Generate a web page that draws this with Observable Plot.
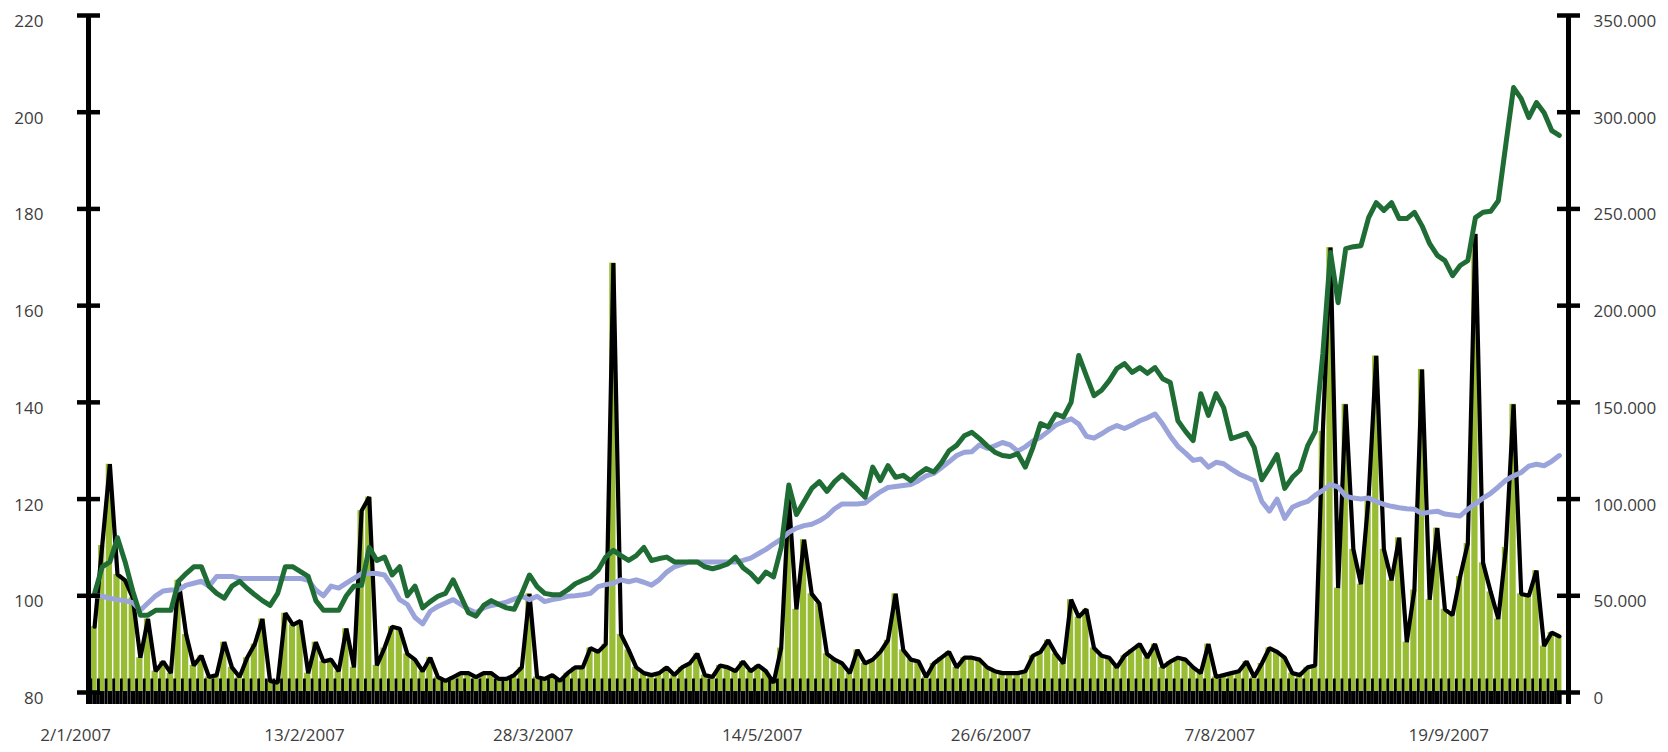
<!DOCTYPE html>
<html>
<head>
<meta charset="utf-8">
<script src="https://cdn.jsdelivr.net/npm/d3@7"></script>
<script src="https://cdn.jsdelivr.net/npm/@observablehq/plot@0.6"></script>
<style>
  html, body { margin: 0; padding: 0; background: #fff; }
  #chart svg { display: block; }
</style>
</head>
<body>
<div id="chart"></div>
<script>
// ---- data (trading-day index 0 = 2/1/2007) ----
const dateLabels = ["2/1/2007", "13/2/2007", "28/3/2007", "14/5/2007", "26/6/2007", "7/8/2007", "19/9/2007"];
const labelDays = [0, 30, 60, 90, 120, 150, 180];

const leftTicks = [80, 100, 120, 140, 160, 180, 200, 220];
const rightMax = 350000;

// volume, thousands (right axis)
const volumeK = [
  34, 76, 118, 61, 58, 49, 18, 38, 11, 16,
  10, 58, 30, 14, 19, 8, 9, 26, 13, 8,
  18, 25, 38, 6, 5, 41, 35, 37, 10, 26,
  16, 17, 11, 33, 13, 94, 101, 14, 23, 34,
  33, 20, 17, 11, 18, 8, 6, 8, 10, 10,
  8, 10, 10, 7, 7, 9, 13, 51, 8, 7,
  9, 6, 10, 13, 13, 23, 21, 25, 222, 30,
  22, 13, 10, 9, 10, 13, 9, 13, 15, 20,
  9, 8, 14, 13, 11, 16, 11, 14, 11, 5,
  23, 100, 43, 79, 51, 46, 20, 17, 15, 10,
  22, 15, 17, 21, 27, 51, 22, 17, 16, 8,
  15, 18, 21, 13, 18, 18, 17, 13, 11, 10,
  10, 10, 11, 19, 21, 27, 20, 15, 48, 39,
  43, 23, 19, 18, 13, 19, 22, 25, 18, 25,
  13, 16, 18, 17, 13, 10, 25, 8, 9, 10,
  11, 16, 8, 15, 23, 21, 18, 10, 9, 13,
  14, 135, 230, 54, 149, 74, 56, 101, 174, 74,
  58, 80, 26, 53, 167, 48, 85, 43, 40, 60,
  77, 237, 67, 52, 38, 75, 149, 51, 50, 63,
  24, 31, 29
];

// dark green index (left axis)
const seriesA = [
  100.5, 106, 107, 112, 107, 101, 96, 96, 97, 97,
  97, 103, 104.6, 106, 106, 102, 100.5, 99.5, 102, 103,
  101.5, 100.2, 99, 98, 100.5, 106, 106, 105, 104, 99,
  97, 97, 97, 100, 102, 102.2, 110, 107.3, 108, 104.3,
  106, 100, 102, 97.5, 98.8, 99.9, 100.5, 103.3, 99.9, 96.5,
  95.8, 98, 99, 98.2, 97.5, 97.2, 100.5, 104.3, 101.9, 100.5,
  100.2, 100.2, 101.2, 102.5, 103.2, 103.9, 105.3, 108, 109.4, 108.3,
  107.3, 108.3, 110, 107.3, 107.7, 108, 107, 107, 107, 107,
  106, 105.6, 106, 106.6, 108, 105.8, 104.6, 102.9, 104.9, 103.9,
  110, 122.9, 116.8, 119.5, 122.2, 123.6, 121.6, 123.6, 125, 123.5,
  122, 120.4, 126.6, 123.8, 126.9, 124.5, 124.9, 123.8, 125.2, 126.3,
  125.6, 127.5, 130, 131.1, 133.1, 133.8, 132.5, 131, 129.7, 129,
  128.8, 129.4, 126.6, 130.7, 135.6, 134.9, 137.6, 137, 140, 149.7,
  145.5, 141.4, 142.5, 144.5, 147, 148, 146.2, 147.2, 146, 147.2,
  144.9, 144.1, 136.2, 134, 132.1, 141.8, 137.3, 141.8, 138.9, 132.5,
  133, 133.6, 130.7, 124, 126.5, 129.2, 122.2, 124.5, 126, 131,
  134, 150, 171, 160.6, 171.8, 172.2, 172.4, 178.2, 181.3, 179.7,
  181.3, 178, 178, 179.3, 176.5, 172.8, 170.4, 169.3, 166.2, 168.3,
  169.3, 178.2, 179.3, 179.5, 181.7, 193.5, 205.1, 202.8, 198.9, 202,
  199.9, 196.2, 195.2
];

// light blue index (left axis)
const seriesB = [
  100, 99.9, 99.5, 99.2, 99, 98.6, 97, 98.5, 100, 101,
  101.2, 101.2, 102.2, 102.6, 103, 102, 104, 104, 104, 103.6,
  103.6, 103.6, 103.6, 103.6, 103.6, 103.6, 103.6, 103.6, 103.2, 101.2,
  100, 102, 101.6, 102.6, 103.6, 104.6, 104.6, 104.6, 104.3, 102,
  99.2, 98.2, 95.5, 94.2, 96.8, 97.8, 98.5, 99.2, 98.2, 97.2,
  96.5, 97.5, 98, 98.3, 98.7, 99.3, 99.9, 99.2, 99.9, 98.8,
  99.2, 99.5, 99.9, 100, 100.2, 100.5, 101.9, 102.3, 102.6, 103.3,
  102.9, 103.3, 102.8, 102.2, 103.3, 104.9, 106, 106.5, 107, 107,
  107, 107, 107, 107, 107, 107.3, 107.8, 108.7, 109.6, 110.7,
  111.7, 113.1, 114, 114.5, 114.8, 115.5, 116.5, 118, 119, 119,
  119, 119.2, 120.4, 121.5, 122.4, 122.6, 122.8, 123, 123.8, 124.8,
  125.3, 126.5, 127.7, 129, 129.7, 129.8, 131.2, 130.5, 131, 131.7,
  131.2, 129.9, 130.8, 132, 132.8, 134, 135.3, 136, 136.6, 135.5,
  133, 132.6, 133.5, 134.5, 135.2, 134.6, 135.3, 136.2, 136.8, 137.6,
  135.5, 133, 130.9, 129.5, 128, 128.3, 126.6, 127.6, 127.3, 126.2,
  125.2, 124.5, 123.8, 119.5, 117.5, 120, 116, 118.3, 119, 119.5,
  120.8, 121.8, 123, 122.5, 120.6, 120.2, 120, 120.2, 119.5, 118.9,
  118.5, 118.2, 118, 117.9, 117, 117.3, 117.5, 116.9, 116.7, 116.5,
  117.9, 119, 120.2, 121.2, 122.5, 123.9, 124.8, 125.5, 126.8, 127.2,
  126.9, 127.8, 129
];

// ---- build ----
const yMin = leftTicks[0], yMax = leftTicks[leftTicks.length - 1];
const volToLeft = v => yMin + v * (yMax - yMin) / rightMax;
const fmtDots = d3.format(",");
const rightLabel = d => fmtDots(Math.round((d - yMin) * rightMax / (yMax - yMin))).replace(/,/g, ".");

const data = volumeK.map((v, i) => ({i, vol: v * 1000, a: seriesA[i], b: seriesB[i]}));
const xDomain = [-0.8, data.length + 0.2];

const W = 1668, H = 752, mL = 88, mR = 100, mT = 15, mB = 60;
const frameW = W - mL - mR;
const frameH = H - mT - mB;
const textColor = "#3d3d3d";

const chart = Plot.plot({
  width: W, height: H,
  marginLeft: mL, marginRight: mR, marginTop: mT, marginBottom: mB,
  x: {domain: xDomain, axis: null},
  y: {domain: [yMin, yMax], axis: null},
  style: {fontFamily: "'Open Sans', sans-serif", fontSize: "17px", color: textColor, background: "#fff", overflow: "visible"},
  marks: [
    // volume bars
    Plot.rect(data, {x1: d => d.i - 0.5, x2: d => d.i + 0.5, y1: yMin, y2: d => volToLeft(d.vol),
      fill: "#98bd34", insetLeft: 0.2, insetRight: 1.2}),
    // category ticks along the base
    Plot.tickX(data, {x: d => d.i - 0.5, stroke: "#000", strokeWidth: 2.8, insetTop: frameH - 13.5, insetBottom: -12}),
    Plot.tickX(data, {x: "i", stroke: "#000", strokeWidth: 4.6, insetTop: frameH - 1, insetBottom: -12}),
    // volume line
    Plot.line(data, {x: "i", y: d => volToLeft(d.vol), stroke: "#000", strokeWidth: 4.2, strokeLinejoin: "miter"}),
    // index lines
    Plot.line(data, {x: "i", y: "b", stroke: "#9aa3da", strokeWidth: 5}),
    Plot.line(data, {x: "i", y: "a", stroke: "#1f6d34", strokeWidth: 5}),
    // axis lines
    Plot.ruleX([xDomain[0]], {stroke: "#000", strokeWidth: 5, insetBottom: -12}),
    Plot.ruleX([xDomain[1]], {stroke: "#000", strokeWidth: 5, insetBottom: -12}),
    // axis ticks crossing the lines
    Plot.tickY(leftTicks, {y: d => d, stroke: "#000", strokeWidth: 4.5, insetLeft: -11, insetRight: frameW - 12}),
    Plot.tickY(leftTicks, {y: d => d, stroke: "#000", strokeWidth: 4.5, insetLeft: frameW - 11, insetRight: -12}),
    // tick labels
    Plot.text(leftTicks, {y: d => d, frameAnchor: "left", dx: -45, dy: 6, textAnchor: "end", text: d => String(d), fill: textColor}),
    Plot.text(leftTicks, {y: d => d, frameAnchor: "right", dx: 25, dy: 6, textAnchor: "start", text: rightLabel, fill: textColor}),
    Plot.text(labelDays, {x: d => d, frameAnchor: "bottom", dx: -19, dy: 48, text: (d, j) => dateLabels[j], fill: textColor})
  ]
});
document.getElementById("chart").appendChild(chart);
</script>
</body>
</html>
